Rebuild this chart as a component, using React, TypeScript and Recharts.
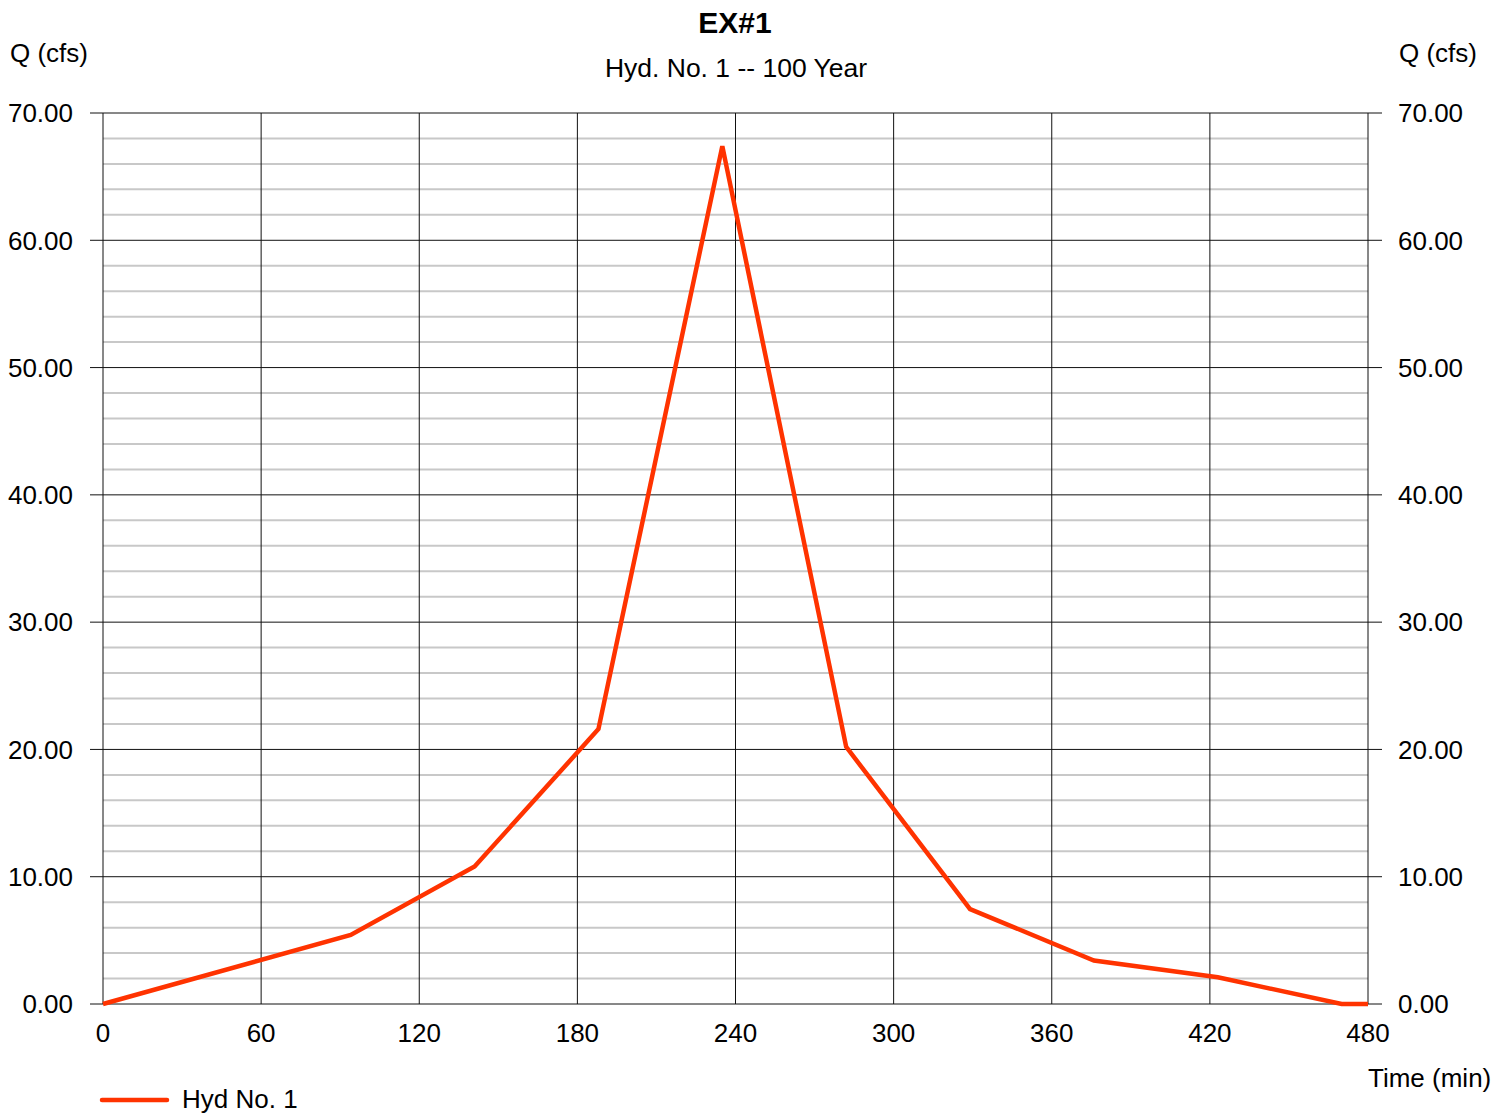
import { CartesianGrid, Line, LineChart, XAxis, YAxis } from "recharts";

const times = [0, 94, 141, 188, 235, 282, 329, 376, 423, 470, 480];
const flows = [0, 5.42, 10.8, 21.6, 67.4, 20.2, 7.46, 3.42, 2.1, 0, 0];

const timeTicks = [0, 60, 120, 180, 240, 300, 360, 420, 480];
const flowTicks = [0, 10, 20, 30, 40, 50, 60, 70];
const minorFlowTicks = [2, 4, 6, 8, 12, 14, 16, 18, 22, 24, 26, 28, 32, 34, 36, 38, 42, 44, 46, 48, 52, 54, 56, 58, 62, 64, 66, 68];

const title = "EX#1";
const subtitle = "Hyd. No. 1 -- 100 Year";
const yLabel = "Q (cfs)";
const xLabel = "Time (min)";
const seriesName = "Hyd No. 1";

const data = times.map((t, i) => ({ time: t, q: flows[i] }));

const FONT = '"Liberation Sans", Arial, sans-serif';
const LINE_COLOR = "#ff3300";

const tickStyle = { fontFamily: FONT, fontSize: 26, fill: "#000" };

export default function App() {
  return (
    <div style={{ position: "absolute", left: 0, top: 0, width: 1512, height: 1114, background: "#fff" }}>
      <LineChart
        width={1512}
        height={1114}
        data={data}
        margin={{ top: 113, right: 0, bottom: 0, left: 0 }}
      >
        <CartesianGrid
          yAxisId="left"
          vertical={false}
          horizontalValues={minorFlowTicks}
          stroke="#c8c8c8"
          strokeWidth={2}
        />
        <CartesianGrid
          yAxisId="left"
          horizontalValues={flowTicks}
          verticalValues={timeTicks}
          stroke="#111"
          strokeWidth={1}
        />
        <XAxis
          dataKey="time"
          type="number"
          domain={[0, 480]}
          ticks={timeTicks}
          height={110}
          axisLine={false}
          tickLine={false}
          tickSize={0}
          tickMargin={20}
          tick={tickStyle}
        />
        <YAxis
          yAxisId="left"
          orientation="left"
          domain={[0, 70]}
          ticks={flowTicks}
          width={103}
          axisLine={false}
          tickLine={{ stroke: "#111" }}
          tickSize={13}
          tickMargin={17}
          tickFormatter={(v: number) => v.toFixed(2)}
          tick={tickStyle}
        />
        <YAxis
          yAxisId="right"
          orientation="right"
          domain={[0, 70]}
          ticks={flowTicks}
          width={144}
          axisLine={false}
          tickLine={{ stroke: "#111" }}
          tickSize={14}
          tickMargin={16}
          tickFormatter={(v: number) => v.toFixed(2)}
          tick={tickStyle}
        />
        {/* invisible copy so the right axis has a series to scale from */}
        <Line
          yAxisId="right"
          dataKey="q"
          stroke="none"
          dot={false}
          activeDot={false}
          legendType="none"
          isAnimationActive={false}
        />
        <Line
          yAxisId="left"
          dataKey="q"
          name={seriesName}
          type="linear"
          stroke={LINE_COLOR}
          strokeWidth={4.5}
          dot={false}
          activeDot={false}
          isAnimationActive={false}
        />
      </LineChart>
      <svg
        width={1512}
        height={1114}
        style={{ position: "absolute", left: 0, top: 0, pointerEvents: "none" }}
        fontFamily={FONT}
      >
        <text x={735} y={33} textAnchor="middle" fontSize={30} fontWeight="bold">{title}</text>
        <text x={736} y={77} textAnchor="middle" fontSize={26.5}>{subtitle}</text>
        <text x={10} y={62} fontSize={26}>{yLabel}</text>
        <text x={1399} y={62} fontSize={26}>{yLabel}</text>
        <text x={1368} y={1087} fontSize={26}>{xLabel}</text>
        <line x1={102} y1={1100} x2={167} y2={1100} stroke={LINE_COLOR} strokeWidth={4.5} strokeLinecap="round" />
        <text x={182} y={1108} fontSize={26}>{seriesName}</text>
      </svg>
    </div>
  );
}
